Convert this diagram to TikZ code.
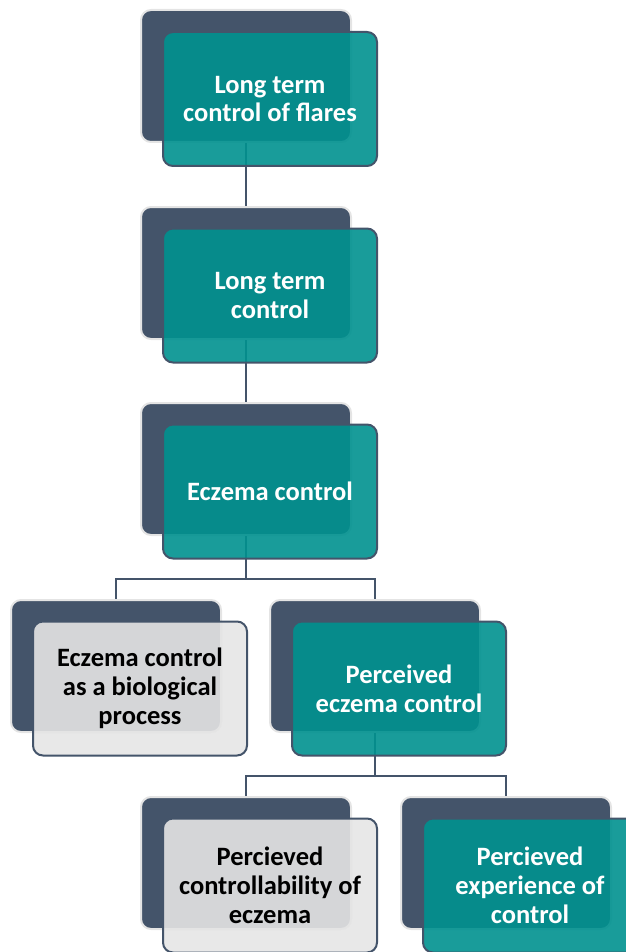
\documentclass[tikz,border=0pt]{standalone}
\usepackage{fontspec}
\setmainfont{Carlito}
\definecolor{slate}{HTML}{44546A}
\definecolor{rim}{HTML}{E4E4E4}
\definecolor{tealfill}{HTML}{00918F}
\definecolor{greyfill}{HTML}{E5E5E5}
\tikzset{
  backbox/.style={draw=rim, line width=2pt, fill=slate, rounded corners=10pt,
    minimum width=210pt, minimum height=132pt, inner sep=0pt},
  frontbox/.style={draw=slate, line width=2pt, rounded corners=10pt,
    minimum width=214pt, minimum height=134pt, inner sep=0pt, align=center,
    font=\bfseries\fontsize{26.5}{28.8}\selectfont, fill opacity=0.9, text opacity=1},
  tealbox/.style={frontbox, fill=tealfill, text=white},
  greybox/.style={frontbox, fill=greyfill, text=black},
  link/.style={draw=slate, line width=2.2pt},
}
\begin{document}
\begin{tikzpicture}[x=1pt, y=-1pt]
  \useasboundingbox (0,0) rectangle (625,952);

  % shadow cards behind each entry
  \node[backbox] (b1)  at (246, 76)  {};
  \node[backbox] (b2)  at (246, 273) {};
  \node[backbox] (b3)  at (246, 469) {};
  \node[backbox] (b4l) at (116, 666) {};
  \node[backbox] (b4r) at (375, 666) {};
  \node[backbox] (b5l) at (246, 863) {};
  \node[backbox] (b5r) at (506, 863) {};

  % hierarchy links
  \draw[link] (b1.south) -- (b2.north);
  \draw[link] (b2.south) -- (b3.north);
  \draw[link] (b3.south) -- ++(0,43) -| (b4l.north);
  \draw[link] (b3.south) -- ++(0,43) -| (b4r.north);
  \draw[link] (b4r.south) -- ++(0,43) -| (b5l.north);
  \draw[link] (b4r.south) -- ++(0,43) -| (b5r.north);

  % labelled cards
  \node[tealbox] (f1)  at (270, 99)    {Long term\\control of flares};
  \node[tealbox] (f2)  at (270, 295.5) {Long term\\control};
  \node[tealbox] (f3)  at (270, 491.5) {Eczema control};
  \node[greybox] (f4l) at (140, 688.5) {Eczema control\\as a biological\\process};
  \node[tealbox] (f4r) at (399, 688.5) {Perceived\\eczema control};
  \node[greybox] (f5l) at (270, 885.5) {Percieved\\controllability of\\eczema};
  \node[tealbox] (f5r) at (530, 885.5) {Percieved\\experience of\\control};
\end{tikzpicture}
\end{document}
